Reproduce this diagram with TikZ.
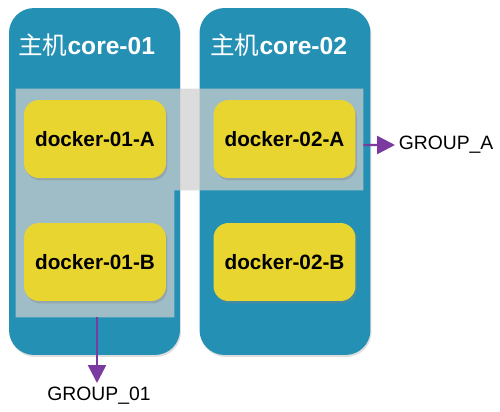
\documentclass[tikz,border=0pt]{standalone}
\usepackage{fontspec}
\setmainfont{Liberation Sans}
\newfontfamily\cjk{Noto Sans CJK SC}
\usepackage{tikz}
\usetikzlibrary{positioning, arrows.meta, shadows}
\definecolor{HostBlue}{RGB}{36,145,180}
\definecolor{DockYellow}{RGB}{233,213,48}
\definecolor{GroupPurple}{RGB}{122,58,160}
\tikzset{
  hostbox/.style={fill=HostBlue, draw=none, rounded corners=0.5cm, minimum width=3.42cm,
    minimum height=6.94cm, inner sep=0pt,
    drop shadow={opacity=0.25, shadow xshift=0.02cm, shadow yshift=-0.04cm}},
  hosttitle/.style={anchor=west, text=white, font=\fontsize{14}{16}\selectfont\bfseries, inner sep=0pt},
  dockbox/.style={fill=DockYellow, draw=none, rounded corners=0.3cm, minimum width=2.84cm,
    minimum height=1.56cm, inner sep=2pt, font=\fontsize{11.8}{14}\selectfont\bfseries,
    drop shadow={opacity=0.35, shadow xshift=0.03cm, shadow yshift=-0.05cm}},
  band/.style={draw=none, fill=none, inner sep=0pt},
  bandfill/.style={fill=gray!38, opacity=0.72},
  grparr/.style={-{Triangle[length=0.36cm, width=0.36cm]}, line width=1.4pt, GroupPurple},
  grplab/.style={font=\fontsize{11}{13}\selectfont, inner sep=2pt},
}
\begin{document}
\begin{tikzpicture}[x=0.02cm, y=-0.02cm]
  \useasboundingbox (0,0) rectangle (500,412);
  % hosts
  \node[hostbox] (h01) at (94.5,181.5) {};
  \node[hostbox] (h02) at (285,181.5) {};
  \node[hosttitle] (t01) at (18,45) {{\cjk\mdseries 主机}core-01};
  \node[hosttitle] (t02) at (210,45) {{\cjk\mdseries 主机}core-02};
  % groups
  \node[band, minimum width=6.94cm, minimum height=2.02cm] (gA) at (189.5,139.5) {};
  \node[band, minimum width=3.16cm, minimum height=4.56cm] (g01) at (95,203) {};
  \fill[bandfill] (gA.north west) -- (gA.north east) -- (gA.south east)
    -- (gA.south east -| g01.east) -- (g01.south east) -- (g01.south west) -- cycle;
  % containers
  \foreach \h/\x in {01/95, 02/284.5}
    \foreach \g/\y in {A/139, B/262}
      \node[dockbox] (d\h\g) at (\x,\y) {docker-\h-\g};
  \node[grplab, anchor=west] (lA) at (395,145) {GROUP\_A};
  \node[grplab, anchor=north] (l01) at (99,383) {GROUP\_01};
  \coordinate (g01out) at ([xshift=0.04cm]g01.south);
  \draw[grparr] ([yshift=-0.11cm]gA.east) -- (lA.west);
  \draw[grparr] (g01out) -- (g01out |- l01.north);
\end{tikzpicture}
\end{document}
